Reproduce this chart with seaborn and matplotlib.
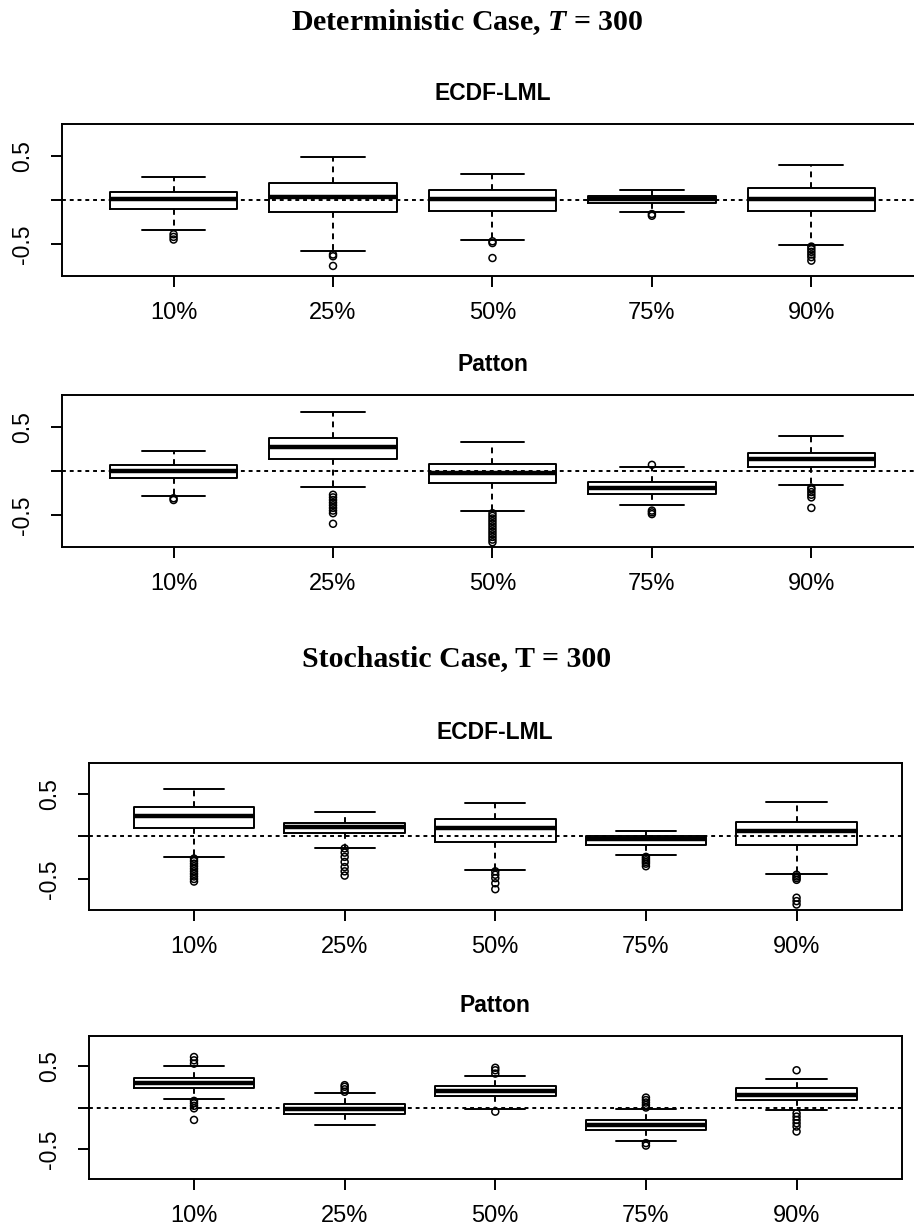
import matplotlib
matplotlib.use("Agg")
import matplotlib.pyplot as plt
import seaborn as sns
import pandas as pd

levels = ["10%", "25%", "50%", "75%", "90%"]

# lower whisker, Q1, median, Q3, upper whisker
det_ecdf_box = [
    [-0.34, -0.10, 0.01, 0.09, 0.26],
    [-0.58, -0.14, 0.03, 0.19, 0.49],
    [-0.46, -0.12, 0.01, 0.11, 0.30],
    [-0.14, -0.03, 0.01, 0.05, 0.11],
    [-0.51, -0.12, 0.01, 0.14, 0.40],
]
det_ecdf_out = [
    [-0.39, -0.42, -0.45],
    [-0.62, -0.64, -0.75],
    [-0.47, -0.49, -0.66],
    [-0.16, -0.18],
    [-0.53, -0.56, -0.59, -0.62, -0.65, -0.69],
]

det_patton_box = [
    [-0.28, -0.075, 0.00, 0.07, 0.23],
    [-0.18, 0.135, 0.27, 0.38, 0.67],
    [-0.46, -0.14, -0.02, 0.075, 0.33],
    [-0.39, -0.26, -0.195, -0.13, 0.045],
    [-0.16, 0.045, 0.135, 0.21, 0.395],
]
det_patton_out = [
    [-0.31, -0.33],
    [-0.27, -0.30, -0.33, -0.36, -0.39, -0.42, -0.45, -0.48, -0.60],
    [-0.48, -0.51, -0.54, -0.57, -0.60, -0.63, -0.66, -0.69, -0.72, -0.75, -0.78, -0.81],
    [0.07, -0.45, -0.47, -0.49],
    [-0.19, -0.21, -0.24, -0.27, -0.30, -0.42],
]

sto_ecdf_box = [
    [-0.24, 0.095, 0.24, 0.35, 0.56],
    [-0.13, 0.045, 0.115, 0.155, 0.29],
    [-0.39, -0.06, 0.095, 0.20, 0.39],
    [-0.22, -0.105, -0.035, 0.005, 0.07],
    [-0.44, -0.10, 0.065, 0.17, 0.41],
]
sto_ecdf_out = [
    [-0.26, -0.29, -0.32, -0.35, -0.38, -0.41, -0.44, -0.47, -0.50, -0.53],
    [-0.14, -0.19, -0.24, -0.30, -0.36, -0.41, -0.46],
    [-0.41, -0.45, -0.49, -0.55, -0.62],
    [-0.24, -0.26, -0.28, -0.30, -0.32, -0.35],
    [-0.45, -0.47, -0.49, -0.51, -0.72, -0.76, -0.80],
]

sto_patton_box = [
    [0.10, 0.235, 0.295, 0.355, 0.50],
    [-0.215, -0.08, -0.02, 0.04, 0.175],
    [-0.02, 0.14, 0.205, 0.255, 0.375],
    [-0.41, -0.275, -0.215, -0.155, -0.02],
    [-0.03, 0.09, 0.155, 0.23, 0.345],
]
sto_patton_out = [
    [0.53, 0.57, 0.61, 0.08, 0.05, 0.02, -0.01, -0.15],
    [0.19, 0.22, 0.25, 0.27],
    [0.41, 0.45, 0.48, -0.05],
    [0.0, 0.03, 0.06, 0.09, 0.12, -0.43, -0.46],
    [0.45, -0.07, -0.11, -0.15, -0.19, -0.23, -0.29],
]

sns.set_theme(style="ticks")
plt.rcParams["font.family"] = ["Liberation Sans", "DejaVu Sans"]
plt.rcParams["text.color"] = "black"
plt.rcParams["xtick.color"] = "black"
plt.rcParams["ytick.color"] = "black"
plt.rcParams["axes.edgecolor"] = "black"
plt.rcParams["mathtext.fontset"] = "custom"
plt.rcParams["mathtext.rm"] = "Liberation Serif:bold"
plt.rcParams["mathtext.it"] = "Liberation Serif:italic:bold"


def long_frame(rows):
    recs = []
    for lev, vals in zip(levels, rows):
        for v in vals:
            recs.append((lev, v))
    return pd.DataFrame(recs, columns=["level", "value"])


def draw_panel(ax, title, box_rows, out_rows):
    n_lines = len(ax.lines)
    sns.boxplot(data=long_frame(box_rows), x="level", y="value", order=levels,
                whis=(0, 100), width=0.8, fill=False, color="black",
                linecolor="black", linewidth=1.4, showfliers=False,
                whiskerprops={"linestyle": (0, (3, 2.5))}, ax=ax)
    # R style: thin black box lines, heavy median bar
    for ln in ax.lines[n_lines:]:
        x, y = ln.get_xdata(), ln.get_ydata()
        ln.set_color("black")
        ln.set_linewidth(1.4)
        if len(x) == 2 and y[0] == y[1] and abs(x[1] - x[0]) > 0.6:
            ln.set_linewidth(3.2)
            ln.set_solid_capstyle("butt")

    n = len(ax.collections)
    sns.stripplot(data=long_frame(out_rows), x="level", y="value", order=levels,
                  jitter=False, color="black", edgecolor="black", size=5,
                  linewidth=1.1, ax=ax)
    for c in ax.collections[n:]:
        c.set_facecolor("none")
        c.set_edgecolor("black")

    ax.axhline(0, color="black", lw=1.4, ls=(0, (2, 2)), zorder=1)
    ax.set_xlim(-0.7, 4.7)
    ax.set_ylim(-0.864, 0.864)
    ax.set_yticks([-0.5, 0, 0.5])
    ax.set_yticklabels(["-0.5", "", "0.5"])
    ax.set_xlabel("")
    ax.set_ylabel("")
    ax.set_title(title, fontsize=16.5, fontweight="bold", pad=17)
    ax.tick_params(axis="x", length=8, width=1.4, labelsize=17, pad=10.5)
    ax.tick_params(axis="y", length=8, width=1.4, labelsize=16.5, pad=12,
                   labelrotation=90)
    for lab in ax.get_yticklabels():
        lab.set_va("center")
    for sp in ax.spines.values():
        sp.set_visible(True)
        sp.set_linewidth(1.4)
        sp.set_color("black")


fig = plt.figure(figsize=(9.14, 12.32), dpi=100)

ax1 = fig.add_axes([0.0678, 0.7760, 0.942, 0.1234])
ax2 = fig.add_axes([0.0678, 0.5560, 0.942, 0.1234])
ax3 = fig.add_axes([0.0969, 0.2614, 0.890, 0.1193])
ax4 = fig.add_axes([0.0969, 0.0430, 0.890, 0.1161])

draw_panel(ax1, "ECDF-LML", det_ecdf_box, det_ecdf_out)
draw_panel(ax2, "Patton", det_patton_box, det_patton_out)
draw_panel(ax3, "ECDF-LML", sto_ecdf_box, sto_ecdf_out)
draw_panel(ax4, "Patton", sto_patton_box, sto_patton_out)

fig.text(0.511, 1 - 22 / 1232, r"Deterministic Case, $\mathit{T}$ = 300",
         ha="center", va="center", fontsize=21.5, fontweight="bold",
         family="Liberation Serif")
fig.text(0.5, 1 - 659 / 1232, "Stochastic Case, T = 300",
         ha="center", va="center", fontsize=21.5, fontweight="bold",
         family="Liberation Serif")

fig.savefig("out.png", dpi=100)
plt.close(fig)
